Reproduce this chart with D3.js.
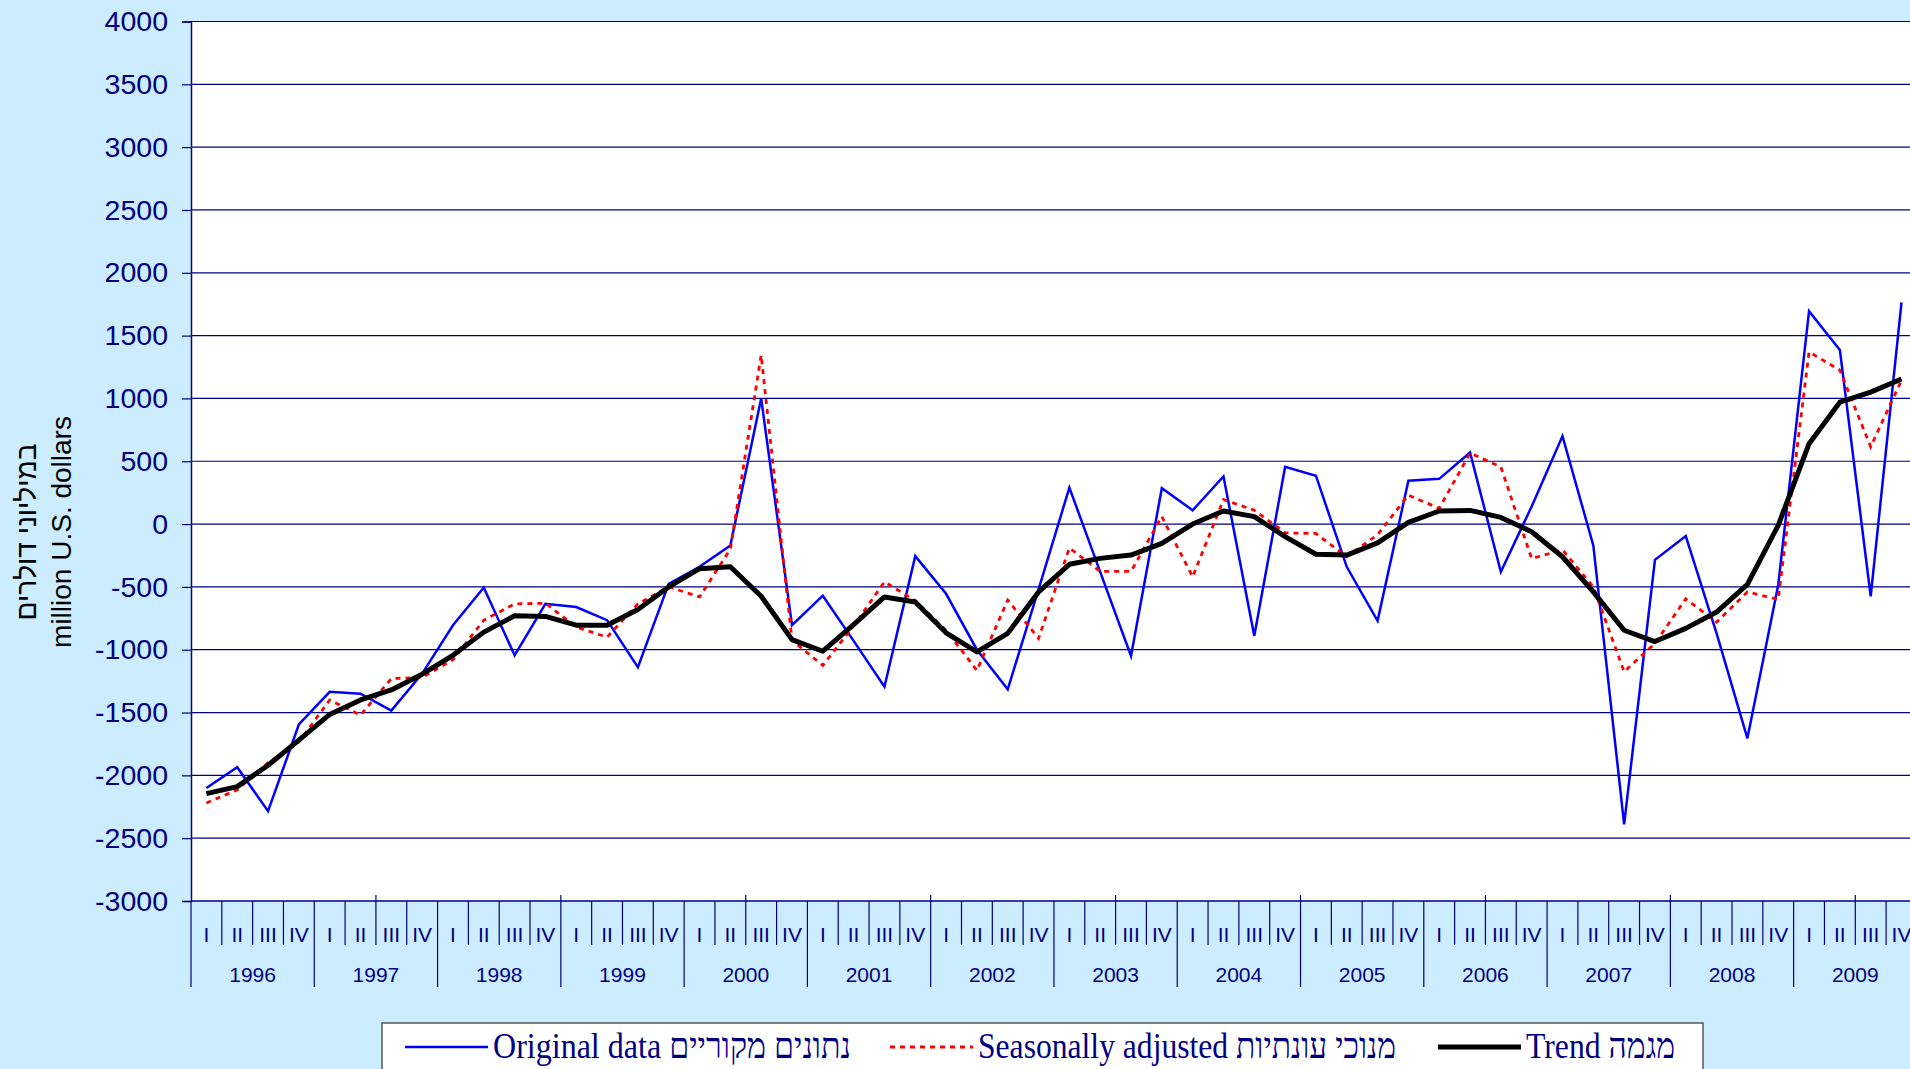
<!DOCTYPE html>
<html>
<head>
<meta charset="utf-8">
<title>quarterly series</title>
<script src="https://cdnjs.cloudflare.com/ajax/libs/d3/7.8.5/d3.min.js"></script>
<style>
  html, body { margin: 0; padding: 0; background: #CCECFF; overflow: hidden; }
  svg { display: block; }
</style>
</head>
<body>
<svg id="chart" width="1910" height="1069"></svg>
<script>
// data, 1996 I .. 2009 IV
let years = ["1996","1997","1998","1999","2000","2001","2002","2003","2004","2005","2006","2007","2008","2009"]
let quarters = ["I","II","III","IV"]

let original = [
  -2100, -1935, -2285, -1595,
  -1335, -1350, -1485, -1190,
   -805,  -505, -1045,  -635,
   -660,  -765, -1140,  -475,
   -340,  -170,  1000,  -805,
   -570,  -930, -1295,  -255,
   -555, -1000, -1315,  -520,
    290,  -380, -1050,   285,
    110,   380,  -890,   455,
    385,  -340,  -770,   345,
    360,   570,  -380,   140,
    700,  -170, -2390,  -285,
    -95,  -870, -1705,  -485,
   1695,  1385,  -575,  1765
]
let seasAdj = [
  -2220, -2115, -1900, -1735,
  -1400, -1520, -1230, -1220,
  -1080,  -765,  -635,  -630,
   -820,  -900,  -635,  -500,
   -580,  -200,  1345,  -925,
  -1125,  -810,  -460,  -610,
   -845, -1165,  -605,  -910,
   -190,  -377,  -377,    60,
   -420,   195,   110,   -70,
    -75,  -260,   -85,   230,
    125,   565,   455,  -275,
   -205,  -500, -1175,  -950,
   -595,  -780,  -540,  -600,
   1370,  1225,   615,  1145
]
let trend = [
  -2145, -2090, -1920, -1720,
  -1515, -1400, -1320, -1195,
  -1045,  -860,  -730,  -735,
   -805,  -805,  -680,  -500,
   -355,  -340,  -575,  -920,
  -1012,  -800,  -580,  -620,
   -865, -1017,  -870,  -540,
   -320,  -273,  -247,  -154,
      0,   104,    59,  -100,
   -240,  -247,  -150,    13,
    104,   109,    53,   -61,
   -260,  -540,  -845,  -935,
   -830,  -700,  -480,   -10,
    640,   970,  1050,  1155
]
let yTicks = d3.range(-3000, 4001, 500)

let legendItems = [
  {label: "Original data נתונים מקוריים", color: "#0000FF", width: 2.5, dash: null, len: 358},
  {label: "Seasonally adjusted מנוכי עונתיות", color: "#FF0000", width: 3, dash: "5,5", len: 418},
  {label: "Trend מגמה", color: "#000000", width: 5, dash: null, len: 149}
]

let svg = d3.select('#chart')
let navy = "#000080"

let plotLeft = 191, plotTop = 21.5, plotBottom = 901
let qW = 30.82
let nQ = years.length * 4
let plotRight = plotLeft + nQ * qW

let x = d3.scaleLinear().domain([0, nQ]).range([plotLeft, plotRight])
let y = d3.scaleLinear().domain([-3000, 4000]).range([plotBottom, plotTop])

// plot area
svg.append("rect")
  .attr("x", plotLeft).attr("y", plotTop)
  .attr("width", plotRight - plotLeft).attr("height", plotBottom - plotTop)
  .attr("fill", "white")

// gridlines
svg.append("g").selectAll("line").data(yTicks.filter(d => d > -3000))
  .enter().append("line")
  .attr("x1", plotLeft).attr("x2", plotRight)
  .attr("y1", d => y(d)).attr("y2", d => y(d))
  .attr("stroke", navy).attr("stroke-width", 1.2)

// y axis
let yAxis = d3.axisLeft(y).tickValues(yTicks).tickSize(9).tickPadding(14)
  .tickFormat(d => String(d))
let ya = svg.append("g").attr("transform", `translate(${plotLeft},0)`).call(yAxis)
ya.select(".domain").attr("stroke", navy).attr("stroke-width", 1.5)
ya.selectAll(".tick line").attr("stroke", navy).attr("stroke-width", 1.2)
ya.selectAll(".tick text")
  .attr("fill", navy)
  .style("font-family", "Arial, 'Liberation Sans', sans-serif")
  .style("font-size", "28.5px")

// y title
let yt = svg.append("g").attr("transform", "translate(0,532) rotate(-90)")
yt.append("text").attr("x", 0).attr("y", 36)
  .attr("text-anchor", "middle")
  .style("font-family", "Arial, 'Liberation Sans', sans-serif")
  .style("font-size", "28px").attr("fill", "black")
  .text("במיליוני דולרים")
yt.append("text").attr("x", 0).attr("y", 71)
  .attr("text-anchor", "middle")
  .style("font-family", "Arial, 'Liberation Sans', sans-serif")
  .style("font-size", "28px").attr("fill", "black")
  .text("million U.S. dollars")

// x axis line
svg.append("line")
  .attr("x1", plotLeft).attr("x2", plotRight)
  .attr("y1", plotBottom).attr("y2", plotBottom)
  .attr("stroke", navy).attr("stroke-width", 1.5)

let qIdx = d3.range(nQ)
// quarter and year dividers below the axis
svg.append("g").selectAll("line").data(d3.range(nQ + 1))
  .enter().append("line")
  .attr("x1", d => x(d)).attr("x2", d => x(d))
  .attr("y1", plotBottom)
  .attr("y2", d => d % 4 == 0 ? 987 : 945)
  .attr("stroke", navy).attr("stroke-width", 1.2)
// major ticks above axis every 6 quarters
svg.append("g").selectAll("line").data(qIdx.filter(d => d % 6 == 0 && d > 0))
  .enter().append("line")
  .attr("x1", d => x(d)).attr("x2", d => x(d))
  .attr("y1", plotBottom - 6).attr("y2", plotBottom)
  .attr("stroke", navy).attr("stroke-width", 1.2)

// quarter labels
svg.append("g").selectAll("text").data(qIdx)
  .enter().append("text")
  .attr("x", d => x(d + 0.5)).attr("y", 942)
  .attr("text-anchor", "middle")
  .attr("fill", navy)
  .style("font-family", "Arial, 'Liberation Sans', sans-serif")
  .style("font-size", "21px")
  .text(d => quarters[d % 4])

// year labels
svg.append("g").selectAll("text").data(years)
  .enter().append("text")
  .attr("x", (d, i) => x(i * 4 + 2)).attr("y", 982)
  .attr("text-anchor", "middle")
  .attr("fill", navy)
  .style("font-family", "Arial, 'Liberation Sans', sans-serif")
  .style("font-size", "21px")
  .text(d => d)

// series lines
let line = d3.line().x((d, i) => x(i + 0.5)).y(d => y(d))

svg.append("path").datum(original)
  .attr("d", line).attr("fill", "none")
  .attr("stroke", "#0000FF").attr("stroke-width", 2.5)

svg.append("path").datum(seasAdj)
  .attr("d", line).attr("fill", "none")
  .attr("stroke", "#FF0000").attr("stroke-width", 2.8)
  .attr("stroke-dasharray", "5,5")

svg.append("path").datum(trend)
  .attr("d", line).attr("fill", "none")
  .attr("stroke", "#000000").attr("stroke-width", 5)
  .attr("stroke-linejoin", "round")

// legend
let lg = svg.append("g")
lg.append("rect")
  .attr("x", 382).attr("y", 1023)
  .attr("width", 1321).attr("height", 70)
  .attr("fill", "white").attr("stroke", "#555").attr("stroke-width", 1.5)

let lx = [405, 890, 1438]
legendItems.forEach((it, i) => {
  lg.append("line")
    .attr("x1", lx[i]).attr("x2", lx[i] + 83)
    .attr("y1", 1047).attr("y2", 1047)
    .attr("stroke", it.color).attr("stroke-width", it.width)
    .attr("stroke-dasharray", it.dash)
  lg.append("text")
    .attr("x", lx[i] + 88).attr("y", 1058)
    .attr("fill", navy)
    .attr("textLength", it.len).attr("lengthAdjust", "spacingAndGlyphs")
    .style("font-family", "'Times New Roman', 'Liberation Serif', serif")
    .style("font-size", "36px")
    .text(it.label)
})
</script>
</body>
</html>
